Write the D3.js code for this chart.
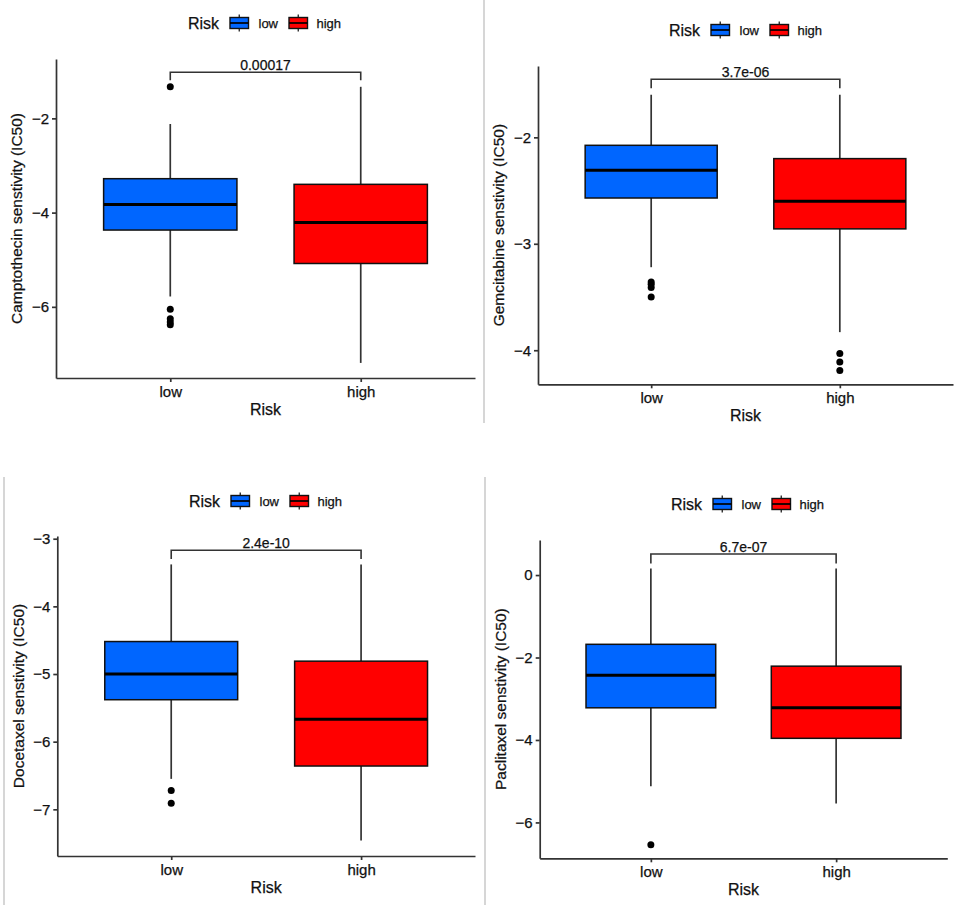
<!DOCTYPE html>
<html>
<head>
<meta charset="utf-8">
<script src="https://cdn.jsdelivr.net/npm/d3@7"></script>
<style>
  body { margin: 0; background: #fff; }
  text { font-family: "Liberation Sans", Arial, sans-serif; fill: #111; stroke: #111; stroke-width: 0.25px; }
</style>
</head>
<body>
<svg id="chart" width="957" height="905"></svg>
<script>
// ---------------- DATA ----------------
const groups = ["low", "high"];
const drugs = ["Camptothecin", "Gemcitabine", "Docetaxel", "Paclitaxel"];
const yTitles = drugs.map(d => d + " senstivity (IC50)");
const pLabels = ["0.00017", "3.7e-06", "2.4e-10", "6.7e-07"];

// [lower whisker, Q1, median, Q3, upper whisker]
const lowStats = [
  [-5.78, -4.37, -3.83, -3.28, -2.12],
  [-3.22, -2.57, -2.31, -2.075, -1.60],
  [-6.55, -5.38, -5.00, -4.52, -3.38],
  [-5.12, -3.22, -2.43, -1.68, 0.16]
];
const highStats = [
  [-7.19, -5.08, -4.21, -3.40, -1.33],
  [-3.83, -2.86, -2.60, -2.20, -1.60],
  [-7.46, -6.36, -5.67, -4.81, -3.38],
  [-5.54, -3.96, -3.22, -2.21, 0.16]
];
const lowOutliers = [
  [-1.33, -6.05, -6.25, -6.32, -6.38],
  [-3.36, -3.38, -3.41, -3.50],
  [-6.72, -6.91],
  [-6.54]
];
const highOutliers = [
  [],
  [-4.03, -4.11, -4.19],
  [],
  []
];
const yTicks = [
  [-2, -4, -6],
  [-2, -3, -4],
  [-3, -4, -5, -6, -7],
  [0, -2, -4, -6]
];
const yDomains = [
  [-7.51, -0.74],
  [-4.32, -1.33],
  [-7.69, -2.96],
  [-6.87, 0.85]
];
// bracket: [top of bracket, bottom of bracket legs]
const bracketTop = [-1.02, -1.455, -3.17, 0.51];
const bracketBottom = [-1.19, -1.54, -3.30, 0.28];

// ---------------- LAYOUT ----------------
const layout = [
  { x0: 56,    x1: 475,   y0: 59,  y1: 378,   legendX: 188, legendY: 23 },
  { x0: 538,   x1: 953,   y0: 66,  y1: 384.3, legendX: 669, legendY: 30 },
  { x0: 57.3,  x1: 475,   y0: 536, y1: 856,   legendX: 189, legendY: 501 },
  { x0: 539.7, x1: 947.3, y0: 540, y1: 858.3, legendX: 671, legendY: 504 }
];
const fills = { low: "#0066FF", high: "#FF0000" };
const axisColor = "#333333";

const svg = d3.select("#chart");
svg.append("rect").attr("width", 957).attr("height", 905).attr("fill", "#fff");

// separator lines
const seps = [[484, 0, 484, 423], [485, 477, 485, 905], [4, 477, 4, 905]];
svg.selectAll("line.sep").data(seps).enter().append("line")
  .attr("class", "sep")
  .attr("x1", d => d[0]).attr("y1", d => d[1]).attr("x2", d => d[2]).attr("y2", d => d[3])
  .attr("stroke", "#c8c8c8").attr("stroke-width", 1.5);

const fmt = v => (v < 0 ? "\u2212" : "") + Math.abs(v);

drugs.forEach((drug, i) => {
  const L = layout[i];
  const g = svg.append("g");
  const x = d3.scalePoint().domain(groups).range([L.x0, L.x1]).padding(0.6);
  const y = d3.scaleLinear().domain(yDomains[i]).range([L.y1, L.y0]);
  const bw = x.step() * 0.7;

  const stats = { low: lowStats[i], high: highStats[i] };
  const outs = { low: lowOutliers[i], high: highOutliers[i] };

  // boxes
  groups.forEach(grp => {
    const s = stats[grp];
    const cx = x(grp);
    const bg = g.append("g");
    bg.append("line").attr("x1", cx).attr("x2", cx).attr("y1", y(s[4])).attr("y2", y(s[3]))
      .attr("stroke", axisColor).attr("stroke-width", 1.7);
    bg.append("line").attr("x1", cx).attr("x2", cx).attr("y1", y(s[1])).attr("y2", y(s[0]))
      .attr("stroke", axisColor).attr("stroke-width", 1.7);
    bg.append("rect").attr("x", cx - bw / 2).attr("width", bw)
      .attr("y", y(s[3])).attr("height", y(s[1]) - y(s[3]))
      .attr("fill", fills[grp]).attr("stroke", "#111").attr("stroke-width", 1.5);
    bg.append("line").attr("x1", cx - bw / 2).attr("x2", cx + bw / 2)
      .attr("y1", y(s[2])).attr("y2", y(s[2]))
      .attr("stroke", "#000").attr("stroke-width", 3);
    bg.selectAll("circle").data(outs[grp]).enter().append("circle")
      .attr("cx", cx).attr("cy", d => y(d)).attr("r", 3.5).attr("fill", "#000");
  });

  // axes
  const ya = g.append("g").attr("transform", `translate(${L.x0},0)`)
    .call(d3.axisLeft(y).tickValues(yTicks[i]).tickFormat(fmt).tickSize(4).tickSizeOuter(0).tickPadding(3));
  const xa = g.append("g").attr("transform", `translate(0,${L.y1})`)
    .call(d3.axisBottom(x).tickSize(4).tickSizeOuter(0).tickPadding(4));
  [ya, xa].forEach(a => {
    a.select(".domain").attr("stroke", axisColor).attr("stroke-width", 1.7);
    a.selectAll(".tick line").attr("stroke", axisColor).attr("stroke-width", 1.7);
    a.selectAll(".tick text").attr("fill", "#111").style("font-size", "15px")
      .style("font-family", "'Liberation Sans', Arial, sans-serif");
  });

  // axis titles
  g.append("text").attr("x", (L.x0 + L.x1) / 2).attr("y", L.y1 + 31.5).attr("dy", "0.35em")
    .attr("text-anchor", "middle").style("font-size", "16px").text("Risk");
  g.append("text")
    .attr("transform", `translate(${L.x0 - 39},${(L.y0 + L.y1) / 2}) rotate(-90)`)
    .attr("dy", "0.35em").attr("text-anchor", "middle").style("font-size", "15.5px")
    .text(yTitles[i]);

  // bracket
  const bx1 = x("low"), bx2 = x("high");
  const bt = y(bracketTop[i]), bb = y(bracketBottom[i]);
  g.append("path")
    .attr("d", `M${bx1},${bb}V${bt}H${bx2}V${bb}`)
    .attr("fill", "none").attr("stroke", axisColor).attr("stroke-width", 1.6);
  g.append("text").attr("x", (bx1 + bx2) / 2).attr("y", bt - 2.5)
    .attr("text-anchor", "middle").style("font-size", "14px").text(pLabels[i]);

  // legend
  const lg = g.append("g").attr("transform", `translate(${L.legendX},${L.legendY})`);
  lg.append("text").attr("x", 0).attr("y", 0).attr("dy", "0.35em").style("font-size", "16px")
    .text("Risk");
  const keyOffsets = { low: [42, 70.5], high: [101, 128.5] };
  groups.forEach(grp => {
    const kx = keyOffsets[grp][0];
    const kw = 18.5, kh = 11;
    const kc = kx + kw / 2;
    lg.append("line").attr("x1", kc).attr("x2", kc).attr("y1", -kh / 2 - 3).attr("y2", kh / 2 + 3)
      .attr("stroke", "#222").attr("stroke-width", 1.3);
    lg.append("rect").attr("x", kx).attr("y", -kh / 2).attr("width", kw).attr("height", kh)
      .attr("fill", fills[grp]).attr("stroke", "#111").attr("stroke-width", 1.4);
    lg.append("line").attr("x1", kx).attr("x2", kx + kw).attr("y1", 0).attr("y2", 0)
      .attr("stroke", "#000").attr("stroke-width", 1.7);
    lg.append("text").attr("x", keyOffsets[grp][1]).attr("y", 0).attr("dy", "0.35em")
      .style("font-size", "13px").text(grp);
  });
});
</script>
</body>
</html>
